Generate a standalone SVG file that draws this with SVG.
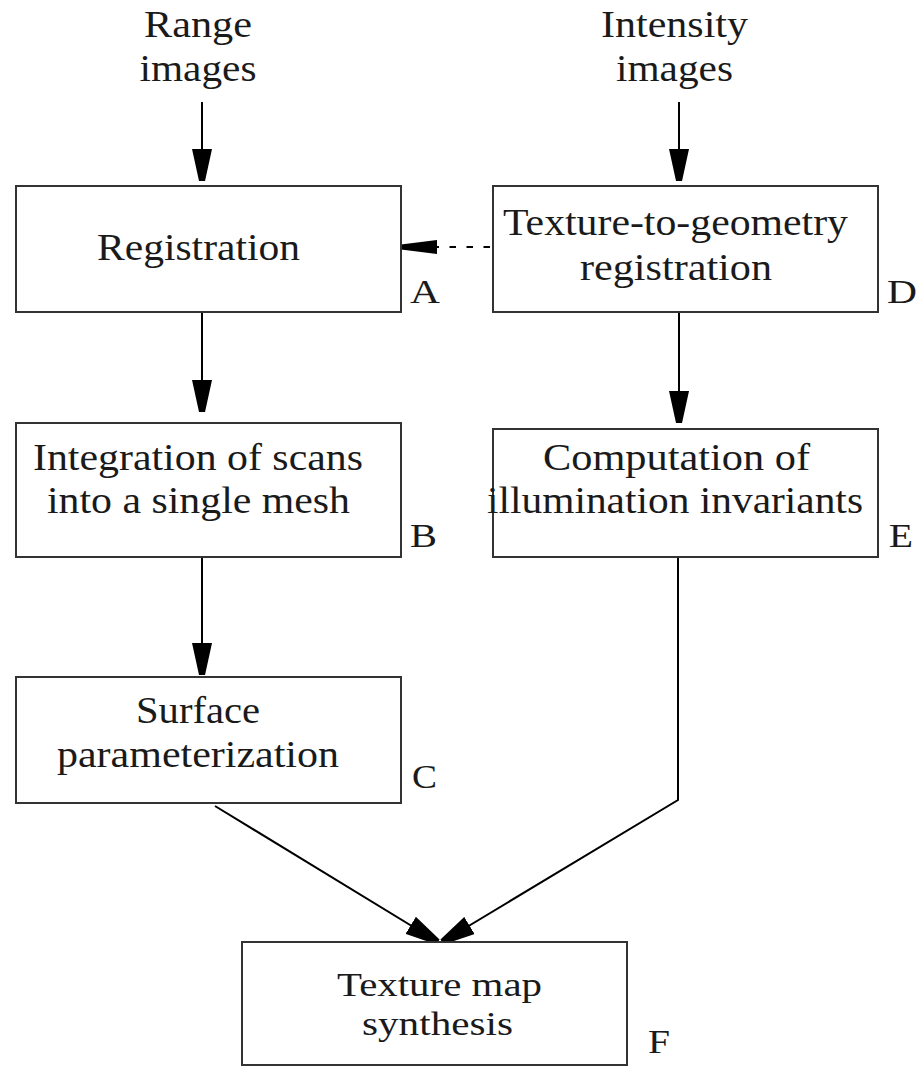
<svg xmlns="http://www.w3.org/2000/svg" width="920" height="1069" viewBox="0 0 920 1069">
<style>
.box{fill:#fff;stroke:#333;stroke-width:2}
.t{font-family:"Liberation Serif","Times New Roman",serif;font-size:37px;fill:#1a1a1a;text-anchor:middle}
.tf{font-size:34px}
.lbl{font-family:"Liberation Serif","Times New Roman",serif;font-size:34px;fill:#1a1a1a}
.c{fill:none;stroke:#000;stroke-width:2}
.d{fill:none;stroke:#000;stroke-width:2;stroke-dasharray:6.5 10.5}
</style>
<defs>
<marker id="ah" markerUnits="userSpaceOnUse" viewBox="0 -10 32 20" markerWidth="32" markerHeight="20" refX="32" refY="0" orient="auto">
<path d="M0,-10 L32,-3 L32,3 L0,10 Z" fill="#000"/>
</marker>
<marker id="ahs" markerUnits="userSpaceOnUse" viewBox="0 -7 36 14" markerWidth="36" markerHeight="14" refX="36" refY="0" orient="auto">
<path d="M0,-7 L36,-2.5 L36,2.5 L0,7 Z" fill="#000"/>
</marker>
</defs>
<g id="inputs">
<text class="t" x="198" y="37" textLength="108" lengthAdjust="spacingAndGlyphs">Range</text>
<text class="t" x="198" y="81" textLength="117" lengthAdjust="spacingAndGlyphs">images</text>
<text class="t" x="674.5" y="37" textLength="147" lengthAdjust="spacingAndGlyphs">Intensity</text>
<text class="t" x="674.5" y="81" textLength="117" lengthAdjust="spacingAndGlyphs">images</text>
</g>
<g id="connectors">
<line class="c" x1="202" y1="102" x2="202" y2="181" marker-end="url(#ah)"/>
<line class="c" x1="679" y1="102" x2="679" y2="181" marker-end="url(#ah)"/>
<line class="c" x1="202" y1="312" x2="202" y2="412" marker-end="url(#ah)"/>
<line class="c" x1="679" y1="312" x2="679" y2="423" marker-end="url(#ah)"/>
<line class="c" x1="202" y1="557" x2="202" y2="675" marker-end="url(#ah)"/>
<line class="d" x1="490" y1="247" x2="401" y2="247" marker-end="url(#ahs)"/>
<line class="c" x1="215" y1="806" x2="438" y2="942" marker-end="url(#ah)"/>
<polyline class="c" points="678,557 678,800 442,942" marker-end="url(#ah)"/>
</g>
<g id="nodeA">
<rect class="box" x="16" y="186" width="385" height="126"/>
<text class="t" x="198.5" y="260" textLength="203" lengthAdjust="spacingAndGlyphs">Registration</text>
<text class="lbl" x="410" y="303" textLength="30" lengthAdjust="spacingAndGlyphs">A</text>
</g>
<g id="nodeD">
<rect class="box" x="493" y="186" width="385" height="126"/>
<text class="t" x="675.5" y="235" textLength="345" lengthAdjust="spacingAndGlyphs">Texture-to-geometry</text>
<text class="t" x="676" y="280" textLength="192" lengthAdjust="spacingAndGlyphs">registration</text>
<text class="lbl" x="887" y="303" textLength="30" lengthAdjust="spacingAndGlyphs">D</text>
</g>
<g id="nodeB">
<rect class="box" x="16" y="423" width="385" height="134"/>
<text class="t" x="198" y="470" textLength="330" lengthAdjust="spacingAndGlyphs">Integration of scans</text>
<text class="t" x="198.5" y="513" textLength="303" lengthAdjust="spacingAndGlyphs">into a single mesh</text>
<text class="lbl" x="410" y="547" textLength="27" lengthAdjust="spacingAndGlyphs">B</text>
</g>
<g id="nodeE">
<rect class="box" x="493" y="429" width="385" height="128"/>
<text class="t" x="676.5" y="470" textLength="267" lengthAdjust="spacingAndGlyphs">Computation of</text>
<text class="t" x="675" y="513" textLength="376" lengthAdjust="spacingAndGlyphs">illumination invariants</text>
<text class="lbl" x="889" y="547" textLength="24" lengthAdjust="spacingAndGlyphs">E</text>
</g>
<g id="nodeC">
<rect class="box" x="16" y="677" width="385" height="126"/>
<text class="t" x="198" y="723" textLength="124" lengthAdjust="spacingAndGlyphs">Surface</text>
<text class="t" x="198" y="767" textLength="282" lengthAdjust="spacingAndGlyphs">parameterization</text>
<text class="lbl" x="412" y="788" textLength="25" lengthAdjust="spacingAndGlyphs">C</text>
</g>
<g id="nodeF">
<rect class="box" x="242" y="942" width="385" height="123"/>
<text class="t tf" x="439.5" y="996" textLength="205" lengthAdjust="spacingAndGlyphs">Texture map</text>
<text class="t tf" x="437.5" y="1035" textLength="151" lengthAdjust="spacingAndGlyphs">synthesis</text>
<text class="lbl" x="648" y="1053" textLength="22" lengthAdjust="spacingAndGlyphs">F</text>
</g>
</svg>
